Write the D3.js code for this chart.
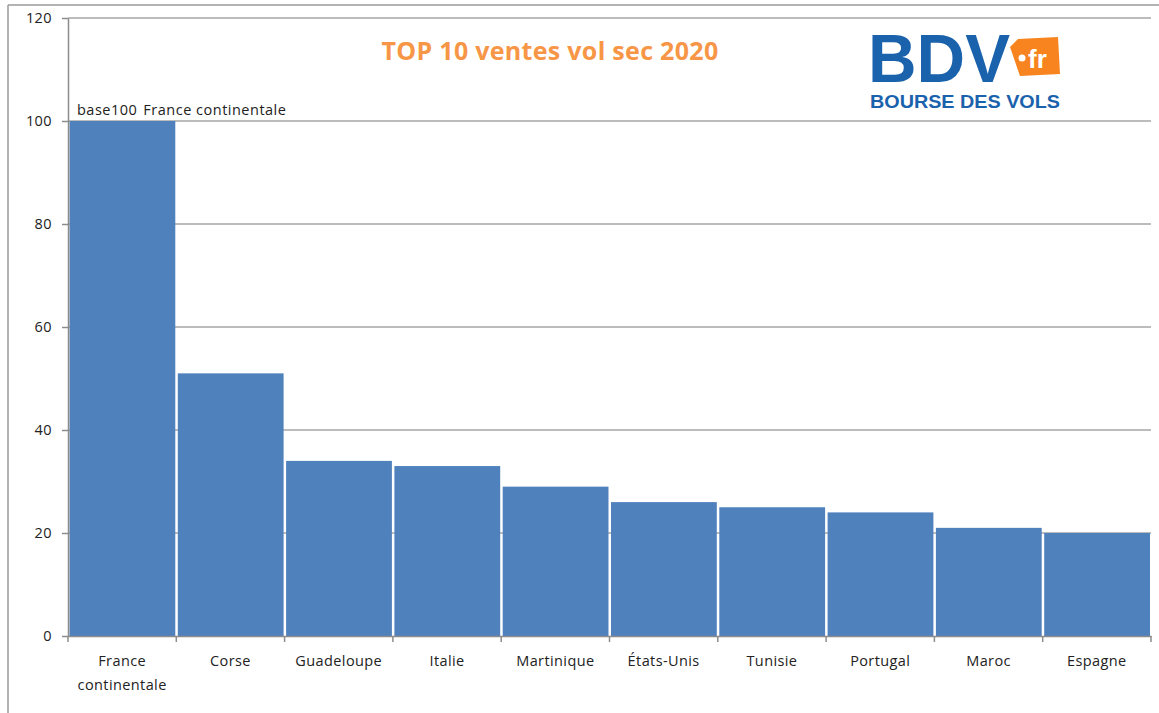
<!DOCTYPE html>
<html>
<head>
<meta charset="utf-8">
<script src="https://cdn.jsdelivr.net/npm/d3@7"></script>
<style>
  body { margin: 0; background: #fff; }
  svg { display: block; }
</style>
</head>
<body>
<div id="chart"></div>
<script>
const countries = ["France continentale", "Corse", "Guadeloupe", "Italie", "Martinique",
  "États-Unis", "Tunisie", "Portugal", "Maroc", "Espagne"];
const salesIndex = [100, 51, 34, 33, 29, 26, 25, 24, 21, 20];
const yTicks = [0, 20, 40, 60, 80, 100, 120];

const W = 1159, H = 713;
const margin = { top: 18, right: 8, bottom: 77, left: 68 };
const width = W - margin.left - margin.right;
const height = H - margin.top - margin.bottom;
const font = "'Open Sans', Lato, sans-serif";

const svg = d3.select("#chart").append("svg")
  .attr("width", W)
  .attr("height", H);

// outer frame (top + left edges visible in the screenshot)
svg.append("line").attr("x1", 8).attr("x2", W).attr("y1", 5).attr("y2", 5)
  .attr("stroke", "#9a9a9a").attr("stroke-width", 1.5);
svg.append("line").attr("x1", 8).attr("x2", 8).attr("y1", 5).attr("y2", H)
  .attr("stroke", "#9a9a9a").attr("stroke-width", 1.5);

const g = svg.append("g")
  .attr("transform", `translate(${margin.left},${margin.top})`);

const x = d3.scaleBand().domain(countries).range([0, width]).padding(0);
const y = d3.scaleLinear().domain([0, 120]).range([height, 0]);

// gridlines
g.selectAll("line.grid")
  .data(yTicks.filter(d => d > 0))
  .join("line")
  .attr("class", "grid")
  .attr("x1", 0).attr("x2", width)
  .attr("y1", d => y(d)).attr("y2", d => y(d))
  .attr("stroke", "#a6a6a6")
  .attr("stroke-width", 1.5);

// bars
g.selectAll("rect.bar")
  .data(countries)
  .join("rect")
  .attr("class", "bar")
  .attr("x", d => x(d) + 1.5)
  .attr("width", x.bandwidth() - 2.5)
  .attr("y", (d, i) => y(salesIndex[i]))
  .attr("height", (d, i) => y(0) - y(salesIndex[i]))
  .attr("fill", "#4f81bd");

// y axis
const yAxis = g.append("g")
  .call(d3.axisLeft(y).tickValues(yTicks).tickSize(6).tickPadding(10).tickSizeOuter(0));
yAxis.select(".domain").attr("stroke", "#8c8c8c").attr("stroke-width", 1.5);
yAxis.selectAll(".tick line").attr("stroke", "#8c8c8c").attr("stroke-width", 1.5);
yAxis.selectAll(".tick text")
  .attr("font-family", font).attr("font-size", 14.5).attr("letter-spacing", 0.4)
  .attr("fill", "#222");

// x axis
const xAxis = g.append("g")
  .attr("transform", `translate(0,${height})`)
  .call(d3.axisBottom(x).tickSize(0).tickPadding(0).tickFormat(""));
xAxis.select(".domain").attr("stroke", "#8c8c8c").attr("stroke-width", 1.5);
xAxis.selectAll(".tick").remove();

// tick marks between categories
g.selectAll("line.xtick")
  .data(d3.range(countries.length + 1))
  .join("line")
  .attr("class", "xtick")
  .attr("x1", i => i * x.step()).attr("x2", i => i * x.step())
  .attr("y1", height).attr("y2", height + 6)
  .attr("stroke", "#8c8c8c").attr("stroke-width", 1.5);

// category labels (wrapped on space for the first one)
g.selectAll("text.xlabel")
  .data(countries)
  .join("text")
  .attr("class", "xlabel")
  .attr("x", d => x(d) + x.bandwidth() / 2)
  .attr("y", height + 30)
  .attr("text-anchor", "middle")
  .attr("font-family", font)
  .attr("font-size", 14.5)
  .attr("letter-spacing", 0.4)
  .attr("fill", "#222")
  .each(function(d) {
    const words = d === "France continentale" ? d.split(" ") : [d];
    d3.select(this).selectAll("tspan")
      .data(words)
      .join("tspan")
      .attr("x", x(d) + x.bandwidth() / 2)
      .attr("dy", (w, i) => i === 0 ? 0 : 24)
      .text(w => w);
  });

// annotation above first bar
const note = g.append("text")
  .attr("x", x(countries[0]) + 9)
  .attr("y", y(100) - 6)
  .attr("font-family", font)
  .attr("font-size", 14.5)
  .attr("letter-spacing", 0.5)
  .attr("fill", "#222");
note.append("tspan").text("base100");
note.append("tspan").attr("dx", 6).text("France continentale");

// title
svg.append("text")
  .attr("x", 550)
  .attr("y", 60)
  .attr("text-anchor", "middle")
  .attr("font-family", font)
  .attr("font-weight", 700)
  .attr("font-size", 25)
  .attr("letter-spacing", 0.3)
  .attr("fill", "#f79646")
  .text("TOP 10 ventes vol sec 2020");

// logo
const logo = svg.append("g").attr("transform", "translate(868,0)");
logo.append("text")
  .attr("x", 0).attr("y", 82)
  .attr("font-family", "'Liberation Sans', Arial, sans-serif")
  .attr("font-weight", 700)
  .attr("font-size", 68)
  .attr("textLength", 142)
  .attr("lengthAdjust", "spacingAndGlyphs")
  .attr("fill", "#1b62ad")
  .text("BDV");
logo.append("path")
  .attr("d", "M142,47 L150,39 L190,37 L192,74 L152,76 Z")
  .attr("fill", "#f7841e");
logo.append("circle").attr("cx", 154).attr("cy", 58).attr("r", 3.5).attr("fill", "#fff");
logo.append("text")
  .attr("x", 160).attr("y", 68)
  .attr("font-family", "'Liberation Sans', Arial, sans-serif")
  .attr("font-weight", 700)
  .attr("font-size", 26)
  .attr("fill", "#fff")
  .text("fr");
logo.append("text")
  .attr("x", 2).attr("y", 108)
  .attr("font-family", "'Liberation Sans', Arial, sans-serif")
  .attr("font-weight", 700)
  .attr("font-size", 19)
  .attr("textLength", 190)
  .attr("lengthAdjust", "spacingAndGlyphs")
  .attr("fill", "#1b62ad")
  .text("BOURSE DES VOLS");
</script>
</body>
</html>
